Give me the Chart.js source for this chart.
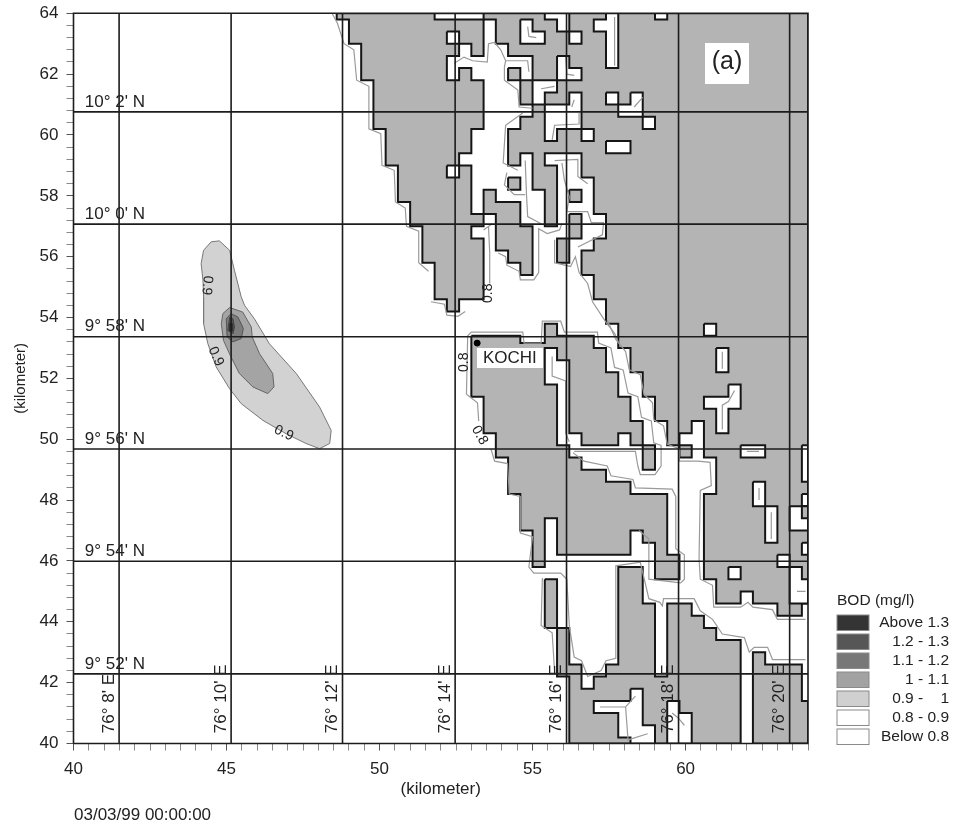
<!DOCTYPE html>
<html>
<head>
<meta charset="utf-8">
<title>BOD map</title>
<script src="https://cdn.jsdelivr.net/npm/chart.js@4"></script>
<style>
  html, body { margin: 0; padding: 0; background: #fff; }
  canvas { display: block; }
</style>
</head>
<body>
<canvas id="bodMap" width="957" height="827"></canvas>
<script>
// model grid is 400 m, land outlines below are [column, row] of that grid
const cellKm = 0.4;
const gridX0 = 49.0;
const gridY0 = 63.8;

const landNorth = [[-1,-.5],[-1,0],[0,0],[0,2],[1,2],[1,5],[2,5],[2,9],[3,9],[3,12],[4,12],[4,15],[5,15],[5,17],[6,17],[6,20],[7,20],[7,23],[8,23],[8,24],[9,24],[9,23],[11,23],
  [11,18],[10,18],[10,17],[11,17],[11,16],[12,16],[12,19],[13,19],[13,20],[14,20],[14,21],[15,21],[15,17],[14,17],[14,15],[12,15],[12,14],[11,14],[11,16],[10,16],[10,12],[9,12],[9,11],[10,11],[10,9],[11,9],[11,5],[10,5],[10,4],[9,4],[9,5],[8,5],[8,3],[9,3],[9,2],[10,2],[10,3],[11,3],[11,0],
  [12,0],[12,2],[13,2],[13,3],[15,3],[15,5],[14,5],[14,7],[15,7],[15,8],[14,8],[14,9],[13,9],[13,12],[14,12],[14,11],[15,11],[15,14],[16,14],[16,17],[17,17],[17,12],[16,12],[16,11],[19,11],[19,13],[20,13],[20,16],[21,16],[21,18],[20,18],[20,19],[19,19],[19,21],[20,21],[20,23],[21,23],[21,25],[22,25],[22,27],[23,27],[23,29],[24,29],[24,31],[25,31],[25,33],[26,33],[26,35],[27,35],[27,34],[28,34],[28,33],[29,33],[29,36],[30,36],[30,39],[29,39],[29,46],[30,46],[30,48],[32,48],[32,47],[33,47],[33,48],[35,48],[35,49],[37,49],[37,48],[37.5,48],[37.5,-.5]];
const landKochi = [[10,26],[10,31],[11,31],[11,34],[12,34],[12,36],[13,36],[13,39],[14,39],[14,42],[15,42],[15,45],[16,45],[16,41],[17,41],[17,44],[23,44],[23,42],[24,42],[24,43],[25,43],[25,46],[27,46],[27,44],[26,44],[26,39],[23,39],[23,38],[21,38],[21,37],[19,37],[19,36],[18,36],[18,35],[17,35],[17,30],[16,30],[16,27],[17,27],[17,28],[18,28],[18,34],[19,34],[19,35],[22,35],[22,34],[23,34],[23,35],[24,35],[24,33],[23,33],[23,31],[22,31],[22,29],[21,29],[21,27],[20,27],[20,26],[17,26],[17,25],[16,25],[16,26.6],[14,26.6],[14,26]];
const landSouth = [[16,46],[17,46],[17,50],[18,50],[18,53],[19,53],[19,55],[20,55],[20,54],[21,54],[21,53],[22,53],[22,45],[24,45],[24,48],[25,48],[25,54],[26,54],[26,48],[28,48],[28,49],[29,49],[29,50],[30,50],[30,51],[32,51],[32,59.5],[18,59.5],[18,54],[17,54],[17,50],[16,50]];
const landSouthEast = [[33,59.5],[33,52],[34,52],[34,53],[37,53],[37,56],[37.5,56],[37.5,59.5]];
const landIslets = [
  [[13,4],[14,4],[14,5],[13,5]],
  [[13,13],[14,13],[14,14],[13,14]],
  [[18,14],[19,14],[19,15],[18,15]],
  [[18,16],[19,16],[19,18],[18,18],[18,20],[17,20],[17,18],[18,18]],
  [[24,35],[25,35],[25,37],[24,37]],
  [[27,35],[28,35],[28,36],[27,36]]
];
const waterPockets = [
  [[7,-.5],[7,0],[11,0],[11,-.5]],
  [[8,1],[9,1],[9,2],[8,2]],
  [[8,12],[9,12],[9,13],[8,13]],
  [[14,0],[15,0],[15,1],[16,1],[16,2],[14,2]],
  [[16,-.5],[16,0],[17,0],[17,1],[18,1],[18,-.5]],
  [[18,1],[19,1],[19,2],[18,2]],
  [[21,-.5],[21,0],[20,0],[20,1],[21,1],[21,4],[22,4],[22,-.5]],
  [[25,-.5],[25,0],[26,0],[26,-.5]],
  [[17,3],[18,3],[18,4],[19,4],[19,5],[17,5]],
  [[15,5],[17,5],[17,6],[16,6],[16,7],[15,7]],
  [[16,7],[18,7],[18,6],[19,6],[19,9],[17,9],[17,10],[16,10]],
  [[21,6],[22,6],[22,7],[21,7]],
  [[23,6],[24,6],[24,8],[22,8],[22,7],[23,7]],
  [[24,8],[25,8],[25,9],[24,9]],
  [[19,9],[20,9],[20,10],[19,10]],
  [[21,10],[23,10],[23,11],[21,11]],
  [[29,25],[30,25],[30,26],[29,26]],
  [[30,27],[31,27],[31,29],[30,29]],
  [[31,30],[32,30],[32,32],[31,32],[31,34],[30,34],[30,32],[29,32],[29,31],[31,31]],
  [[32,35],[34,35],[34,36],[32,36]],
  [[33,38],[34,38],[34,40],[33,40]],
  [[34,40],[35,40],[35,43],[34,43]],
  [[37,35],[37.5,35],[37.5,38],[37,38]],
  [[37,39],[37.5,39],[37.5,40],[37,40]],
  [[36,40],[37.5,40],[37.5,42],[36,42]],
  [[37,43],[37.5,43],[37.5,44],[37,44]],
  [[35,44],[36,44],[36,45],[35,45]],
  [[31,45],[32,45],[32,46],[31,46]],
  [[36,45],[37,45],[37,46],[37.5,46],[37.5,48],[36,48]],
  [[23,55],[24,55],[24,58],[25,58],[25,59.5],[23,59.5],[23,59],[22,59],[22,57],[20,57],[20,56],[23,56]],
  [[26,56],[27,56],[27,57],[28,57],[28,59.5],[26,59.5]]
];
const landIsletsInPockets = [[[37,40],[37.5,40],[37.5,41],[37,41]]];

// 0.8 contour pieces, same grid units
const contourLines = [
  [[-1.36,-.46],[-.95,.3],[-.4,2],[.4,2.5],[.63,5],[1.63,5.5],[1.63,9],[2.6,9.4],[2.7,12],[3.7,12.4],[3.8,15],[4.6,15.5],[4.7,17],[5.7,17.4],[5.7,20],[6.5,20.7]],
  [[6.7,23.2],[7.8,23.4],[8,24.3],[8.9,24.4],[9.5,24]],
  [[11,17.3],[11.7,16.8]],
  [[11.4,17],[11.5,19.2],[11.5,21.7]],
  [[12.2,19.2],[12.8,19.5],[12.9,20.2],[13.9,20.7],[14,21.4],[15.1,21.4],[15.5,20.8],[15.5,17.2],[16.2,17.6],[17.2,17.3],[17.4,16.8]],
  [[8.6,3.6],[9.4,3.1],[10.1,3.4],[11.3,3.5],[11.4,2],[11.9,1.9],[12.4,2.5],[12.8,3.4],[14.6,3.4],[14.7,4.3]],
  [[12.8,3.4],[12.7,3.9],[12.7,5],[13.8,5.8],[13.9,7.2],[15,7.3]],
  [[14.2,7.7],[12.8,8.7],[12.6,11.8],[13.8,12.4]],
  [[12.9,12.6],[12.7,13.6],[13.5,14.4],[14.4,14.4]],
  [[14.4,11.6],[14.5,14.3],[14.6,16.2],[15.7,16.8]],
  [[16.8,11.6],[18.7,11.5],[18.7,12.9],[19.5,13.5]],
  [[17.4,11.8],[17.6,13.2],[18,14.6],[17.8,15.8],[19.5,15.8],[19.8,16.7],[20.8,16.7],[20.7,17.7],[18.7,18.7]],
  [[16.8,18.1],[16.8,20],[18.1,20.3],[18.5,19.5],[18.8,20.8],[19.5,21.7],[19.9,23.2],[21,24.9],[21.7,25.8],[22,26.5]],
  [[14.6,.6],[14.7,1.4],[15.3,1.5]],
  [[17.7,3.1],[17.8,4.5],[18.4,4.6]],
  [[21.7,-.2],[21.7,3.8]],
  [[15.7,5.7],[16.8,5.5]],
  [[18.4,6.6],[18.2,7.2]],
  [[18.8,7.7],[18.8,8.6],[16.8,8.7],[16.6,9.9]],
  [[23.3,7.2],[24,6.4]],
  [[9.6,30.8],[9.7,26],[10,25.7],[14.2,25.7],[14.3,26.6],[15.7,26.6],[15.8,24.8],[17.3,24.8],[17.6,25.7],[20.3,25.7],[20.4,26.6],[21.4,27],[21.7,28.6],[22.4,28.8],[22.8,30.7],[23.6,31],[23.9,32.7],[24.7,33],[24.9,34.8],[25.5,35],[25.5,36.7],[25,37.4],[23.8,37.4],[23.6,36.7],[23.4,35.5],[22.2,35.5],[18.4,35.5]],
  [[21.1,24.7],[21.8,26.3],[22.6,27.3],[22.9,28.8],[23.8,29.2],[24.1,30.8],[24.8,31.5],[24.9,32.9],[25.7,33.4],[26,34.9],[27,35.3],[27,36.3],[28.5,36.3],[29.5,36.4],[29.6,38.3],[28.7,38.7],[28.6,44.3],[28.7,46],[29.7,46.5],[29.8,48.3],[32,48.3],[32.6,47.9],[33,48.3],[34.6,48.5],[35,49.3],[37.3,49.3]],
  [[9.6,30.8],[10.5,31.5],[10.6,33]],
  [[11.6,35.3],[11.9,36.3],[12.95,36.5],[13.1,39],[14,39.2],[14,42.2],[15,42.5],[14.7,45],[15.1,45.5],[17.3,45.5],[17.8,46],[18,49.8],[18.4,52.4],[19,52.7],[19.5,54],[20.6,53.5],[21,52.7],[21.8,52.5],[21.8,44.9],[23.8,44.6],[24.5,47.6],[25.4,47.9],[25.6,48.2],[25.7,47.6],[28.2,47.6],[28.7,48.6],[29.7,49.3],[30.5,50.5],[32.3,50.8],[32.7,52],[33.1,51.6],[34.2,51.6],[34.6,52.6],[37.3,52.6]],
  [[18.3,35.6],[19.2,36.3],[21.1,36.7],[21.4,37.5],[23.2,37.8],[23.4,38.5],[26.4,38.6],[26.7,39.2],[26.7,43.5],[27.4,44],[27.4,46],[27.1,46.3],[24.5,46],[24.5,42.7],[23.7,42]],
  [[15.8,45.9],[15.7,49.8],[16.6,50.4],[16.8,53.6]],
  [[16.6,27.7],[16.6,29.3],[17.7,29.7],[17.7,34],[18,34.7]],
  [[30.5,27.3],[30.5,28.7]],
  [[30.5,33.7],[30.5,31.7],[31,31.4],[31.5,30.5]],
  [[32.5,35.5],[33.5,35.5]],
  [[33.5,38.5],[33.5,39.5]],
  [[34.5,40.5],[34.5,42.7]],
  [[36.6,47],[37.3,47]],
  [[20.5,56.5],[22.6,56.5],[23.4,55.6]],
  [[22.6,56.5],[22.8,59.2],[24.4,58.7]],
  [[26.4,57],[26.9,57.4],[27.4,58]]
];

// plume outlines in km
const plume09X = [44.77,44.50,44.25,44.17,44.23,44.25,44.25,44.39,44.66,45.10,45.48,46.19,46.95,47.60,48.04,48.37,48.42,48.04,47.28,46.40,45.91,45.59,45.48,45.26,45.10];
const plume09Y = [56.52,56.49,56.21,55.77,55.23,54.68,53.80,53.14,52.38,51.66,51.17,50.62,50.18,49.86,49.69,49.86,50.29,51.06,52.16,53.14,53.96,54.40,54.68,55.55,56.21];
const plume10X = [45.10,44.88,44.83,44.90,45.12,45.42,45.86,46.35,46.55,46.51,46.08,45.84,45.81,45.53];
const plume10Y = [54.33,54.13,53.80,53.25,52.76,52.16,51.72,51.50,51.72,52.16,52.81,53.36,53.69,54.18];
const plume11X = [45.15,44.99,45.02,45.21,45.48,45.55,45.37];
const plume11Y = [54.13,53.96,53.36,53.20,53.31,53.64,54.02];
const plume12X = [45.10,45.04,45.21,45.26,45.21];
const plume12Y = [54.00,53.58,53.47,53.69,53.96];
const plume13X = [45.10,45.10,45.20,45.20];
const plume13Y = [53.80,53.56,53.56,53.80];

const meridians = [41.49,45.15,48.79,52.47,56.11,59.77,63.40];
const meridianLabels = ["76° 8' E","76° 10' E","76° 12' E","76° 14' E","76° 16' E","76° 18' E","76° 20' E"];
const parallels = [60.76,57.07,53.37,49.68,45.99,42.29];
const parallelLabels = ["10° 2' N","10° 0' N","9° 58' N","9° 56' N","9° 54' N","9° 52' N"];

const kochiPoint = [53.19,53.16];

const contourTexts = ["0.9","0.9","0.9","0.8","0.8","0.8"];
const contourTextX = [44.36,44.65,46.87,53.56,52.78,53.27];
const contourTextY = [55.06,52.72,50.20,54.80,52.53,50.13];
const contourTextAngle = [95,65,25,-90,-90,60];

const legendClasses = ["Above 1.3","1.2 - 1.3","1.1 - 1.2","1 - 1.1","0.9 -    1","0.8 - 0.9","Below 0.8"];
const legendColors = ["#343434","#565656","#787878","#a2a2a2","#d0d0d0","#ffffff","#ffffff"];

const fontName = '"Liberation Sans", Arial, sans-serif';
const inkColor = "#222";

function cellsToPoints(cells, close) {
    const pts = cells.map((c) => ({ x: gridX0 + c[0] * cellKm, y: gridY0 - c[1] * cellKm }));
    if (close) pts.push(pts[0]);
    return pts;
}
function xyToPoints(xs, ys) {
    const pts = xs.map((x, i) => ({ x: x, y: ys[i] }));
    pts.push(pts[0]);
    return pts;
}
function area(points, fillColor, lineColor, lineWidth) {
    return { data: points, showLine: true, pointRadius: 0, fill: "shape", backgroundColor: fillColor,
             borderColor: lineColor, borderWidth: lineWidth, borderJoinStyle: "miter", tension: 0 };
}
function line(points, lineColor, lineWidth) {
    return { data: points, showLine: true, pointRadius: 0, fill: false, borderColor: lineColor,
             borderWidth: lineWidth, tension: 0 };
}

// paint order, first one goes at the bottom
const landGray = "#b4b4b4";
const coastBlack = "#151515";
const paintList = [];
paintList.push(area(xyToPoints(plume09X, plume09Y), "#d2d2d2", "#777", 1));
paintList.push(area(xyToPoints(plume10X, plume10Y), "#a4a4a4", "#666", 1));
paintList.push(area(xyToPoints(plume11X, plume11Y), "#7c7c7c", "#555", 1));
paintList.push(area(xyToPoints(plume12X, plume12Y), "#585858", "#444", 1));
paintList.push(area(xyToPoints(plume13X, plume13Y), "#343434", "#333", 1));
[landNorth, landKochi, landSouth, landSouthEast].concat(landIslets).forEach((poly) => {
    paintList.push(area(cellsToPoints(poly, true), landGray, coastBlack, 2));
});
waterPockets.forEach((poly) => paintList.push(area(cellsToPoints(poly, true), "#ffffff", coastBlack, 2)));
landIsletsInPockets.forEach((poly) => paintList.push(area(cellsToPoints(poly, true), landGray, coastBlack, 2)));
contourLines.forEach((c) => paintList.push(line(cellsToPoints(c, false), "#9a9a9a", 1.2)));
meridians.forEach((x) => paintList.push(line([{ x: x, y: 40 }, { x: x, y: 64 }], "#1c1c1c", 1.6)));
parallels.forEach((y) => paintList.push(line([{ x: 40, y: y }, { x: 64, y: y }], "#1c1c1c", 1.6)));
const frame = line([{ x: 40, y: 40 }, { x: 40, y: 64 }, { x: 64, y: 64 }, { x: 64, y: 40 }, { x: 40, y: 40 }], "#1c1c1c", 1.6);
frame.clip = 3;
paintList.push(frame);
paintList.forEach((ds, i) => { ds.order = paintList.length - i + 1; });

// the town dot goes over the KOCHI tag, so it is kept on top of everything
paintList.unshift({ data: [{ x: kochiPoint[0], y: kochiPoint[1] }], showLine: false, pointRadius: 3,
                    backgroundColor: "#000", borderColor: "#000", order: 0 });

// texts that sit on the map plus the legend block
const mapTexts = {
    id: "mapTexts",
    afterDatasetsDraw(chart) {
        const ctx = chart.ctx;
        const sx = chart.scales.x;
        const sy = chart.scales.y;
        ctx.save();
        ctx.fillStyle = inkColor;
        ctx.textBaseline = "middle";

        ctx.font = "17px " + fontName;
        ctx.textAlign = "left";
        parallels.forEach((y, i) => {
            ctx.fillText(parallelLabels[i], sx.getPixelForValue(40.37), sy.getPixelForValue(y) - 10);
        });
        meridians.forEach((x, i) => {
            ctx.save();
            ctx.translate(sx.getPixelForValue(x) - 10, sy.getPixelForValue(40.34));
            ctx.rotate(-Math.PI / 2);
            ctx.fillText(meridianLabels[i], 0, 0);
            ctx.restore();
        });

        ctx.font = "14px " + fontName;
        ctx.textAlign = "center";
        contourTexts.forEach((t, i) => {
            ctx.save();
            ctx.translate(sx.getPixelForValue(contourTextX[i]), sy.getPixelForValue(contourTextY[i]));
            ctx.rotate(contourTextAngle[i] * Math.PI / 180);
            ctx.fillText(t, 0, 0);
            ctx.restore();
        });

        // KOCHI tag
        ctx.fillStyle = "#fff";
        ctx.fillRect(477, 348, 66, 20);
        ctx.fillStyle = inkColor;
        ctx.font = "17px " + fontName;
        ctx.textAlign = "left";
        ctx.fillText("KOCHI", 483, 358);

        // (a) tag
        ctx.fillStyle = "#fff";
        ctx.fillRect(705, 43, 44, 41);
        ctx.fillStyle = inkColor;
        ctx.font = "25px " + fontName;
        ctx.textAlign = "center";
        ctx.fillText("(a)", 727, 62);

        ctx.font = "17px " + fontName;
        ctx.textAlign = "left";
        ctx.fillText("03/03/99 00:00:00", 74, 815);

        // legend
        ctx.font = "15.5px " + fontName;
        ctx.fillText("BOD (mg/l)", 837, 601);
        legendClasses.forEach((name, i) => {
            const top = 615 + i * 19;
            ctx.fillStyle = legendColors[i];
            ctx.fillRect(837, top, 32, 15.5);
            ctx.strokeStyle = "#8a8a8a";
            ctx.lineWidth = 1;
            ctx.strokeRect(837, top, 32, 15.5);
            ctx.fillStyle = inkColor;
            ctx.textAlign = "right";
            ctx.fillText(name, 949, top + 8);
        });
        ctx.restore();
    }
};

new Chart(document.getElementById("bodMap"), {
    type: "scatter",
    data: { datasets: paintList },
    options: {
        responsive: false,
        animation: false,
        layout: { padding: { left: 0, top: 13.3, right: 149, bottom: 27 } },
        plugins: { legend: { display: false }, tooltip: { enabled: false } },
        scales: {
            x: {
                type: "linear", min: 40, max: 64,
                afterFit: (s) => { s.height = 56.5; s.paddingLeft = 0; s.paddingRight = 0; },
                grid: { drawOnChartArea: false, tickLength: 7,
                        tickColor: (c) => (Math.round(c.tick.value * 10) % 50 === 0 ? "#555" : "#888") },
                border: { display: false },
                ticks: { stepSize: 0.5, autoSkip: false, maxRotation: 0, padding: 9, color: inkColor,
                         font: { family: fontName, size: 17 },
                         callback: (v) => (Math.round(v * 10) % 50 === 0 ? String(Math.round(v)) : "") },
                title: { display: true, text: "(kilometer)", color: inkColor, padding: 0,
                         font: { family: fontName, size: 17 } }
            },
            y: {
                type: "linear", min: 40, max: 64,
                afterFit: (s) => { s.width = 73.5; s.paddingTop = 0; s.paddingBottom = 0; },
                grid: { drawOnChartArea: false, tickLength: 7,
                        tickColor: (c) => (Math.round(c.tick.value * 10) % 20 === 0 ? "#555" : "#888") },
                border: { display: false },
                ticks: { stepSize: 0.4, autoSkip: false, padding: 8, color: inkColor,
                         font: { family: fontName, size: 17 },
                         callback: (v) => (Math.round(v * 10) % 20 === 0 ? String(Math.round(v)) : "") },
                title: { display: true, text: "(kilometer)", color: inkColor, padding: { top: 12, bottom: 0 },
                         font: { family: fontName, size: 15 } }
            }
        }
    },
    plugins: [mapTexts]
});
</script>
</body>
</html>
